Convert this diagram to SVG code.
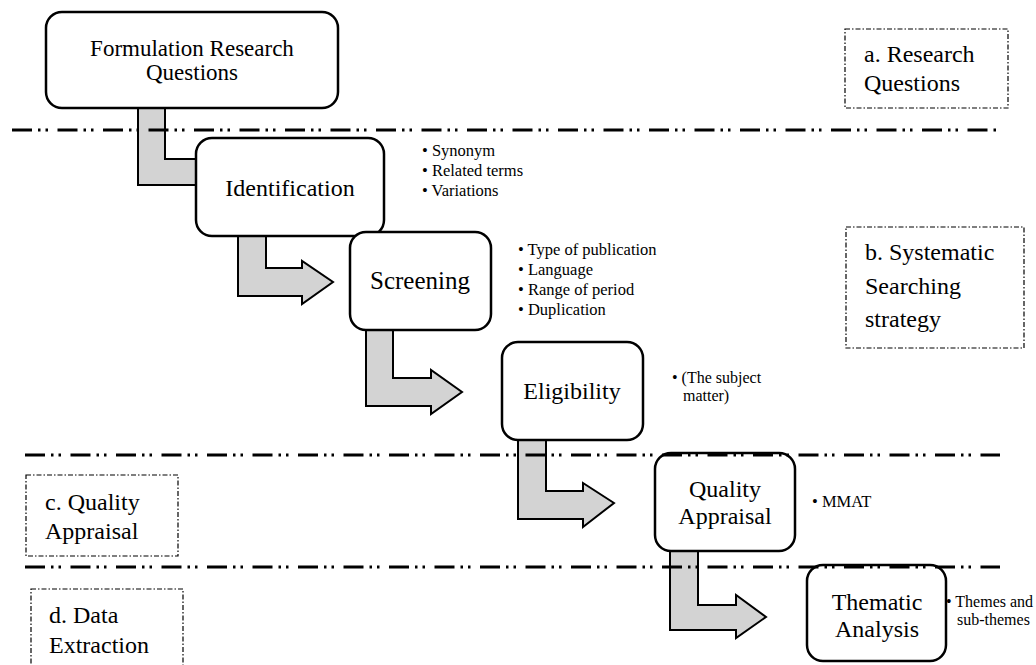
<svg xmlns="http://www.w3.org/2000/svg" width="1036" height="665" viewBox="0 0 1036 665">
<style>
.bg{fill:#ffffff}
.node{fill:#ffffff;stroke:#000000;stroke-width:2.5}
.conn{fill:#d3d3d3;stroke:#000000;stroke-width:2;stroke-linejoin:miter}
.sep{stroke:#000000;stroke-width:3.2;fill:none;stroke-dasharray:20 6 2.5 5 2.5 9.5}
.lbl{fill:none;stroke:#000000;stroke-width:1.2;stroke-dasharray:5 2 1.5 2}
text{font-family:"Liberation Serif","Times New Roman",serif;fill:#000000}
.t{font-size:24px;text-anchor:middle}
.l{font-size:24px}
.b{font-size:16.5px}
</style>
<rect class="bg" x="0" y="0" width="1036" height="665"/>
<g id="connectors">
<polygon class="conn" points="138,108 165,108 165,159 198,159 198,185 138,185"/>
<polygon class="conn" points="238,236 266,236 266,268 302,268 302,261 333,282 302,304 302,296 238,296"/>
<polygon class="conn" points="366,330 393,330 393,378 431,378 431,370 462,392 431,414 431,406 366,406"/>
<polygon class="conn" points="518,440 546,440 546,491 583,491 583,483 614,503 583,527 583,519 518,519"/>
<polygon class="conn" points="670,551 698,551 698,605 736,605 736,595 766,617 736,638 736,630 670,630"/>
</g>
<g id="node-formulation">
<rect class="node" x="46" y="12" width="292" height="96" rx="16"/>
<text class="t" x="192" y="56" style="font-size:23px">Formulation Research</text>
<text class="t" x="192" y="80" style="font-size:23px">Questions</text>
</g>
<g id="node-identification">
<rect class="node" x="196" y="138" width="188" height="98" rx="16"/>
<text class="t" x="290" y="196">Identification</text>
<text class="b" x="422" y="156">• Synonym</text>
<text class="b" x="422" y="176">• Related terms</text>
<text class="b" x="422" y="196">• Variations</text>
</g>
<g id="node-screening">
<rect class="node" x="350" y="232" width="141" height="98" rx="16"/>
<text class="t" x="420" y="289" style="font-size:25px">Screening</text>
<text class="b" x="518" y="255">• Type of publication</text>
<text class="b" x="518" y="275">• Language</text>
<text class="b" x="518" y="295">• Range of period</text>
<text class="b" x="518" y="315">• Duplication</text>
</g>
<g id="node-eligibility">
<rect class="node" x="502" y="342" width="141" height="98" rx="16"/>
<text class="t" x="572" y="399">Eligibility</text>
<text class="b" x="672" y="383" style="font-size:16px">• (The subject</text>
<text class="b" x="683" y="401" style="font-size:16px">matter)</text>
</g>
<g id="node-quality">
<rect class="node" x="655" y="453" width="140" height="98" rx="16"/>
<text class="t" x="725" y="497">Quality</text>
<text class="t" x="725" y="524">Appraisal</text>
<text class="b" x="812" y="507">• MMAT</text>
</g>
<g id="node-thematic">
<rect class="node" x="807" y="565" width="139" height="96" rx="16"/>
<text class="t" x="877" y="610">Thematic</text>
<text class="t" x="877" y="637">Analysis</text>
<text class="b" x="946" y="607" style="font-size:16px">• Themes and</text>
<text class="b" x="957" y="625" style="font-size:16px">sub-themes</text>
</g>
<g id="separators">
<line class="sep" x1="12" y1="130" x2="1001" y2="130"/>
<line class="sep" x1="25" y1="455" x2="1000" y2="455"/>
<line class="sep" x1="25" y1="567" x2="1000" y2="567"/>
</g>
<g id="label-a">
<rect class="lbl" x="845" y="29" width="163" height="79"/>
<text class="l" x="864" y="62">a. Research</text>
<text class="l" x="864" y="91">Questions</text>
</g>
<g id="label-b">
<rect class="lbl" x="846" y="227" width="178" height="121"/>
<text class="l" x="865" y="260">b. Systematic</text>
<text class="l" x="865" y="294">Searching</text>
<text class="l" x="865" y="327">strategy</text>
</g>
<g id="label-c">
<rect class="lbl" x="26" y="475" width="152" height="81"/>
<text class="l" x="45" y="510">c. Quality</text>
<text class="l" x="45" y="539">Appraisal</text>
</g>
<g id="label-d">
<rect class="lbl" x="31" y="589" width="152" height="90"/>
<text class="l" x="49" y="623">d. Data</text>
<text class="l" x="49" y="653">Extraction</text>
</g>
</svg>
